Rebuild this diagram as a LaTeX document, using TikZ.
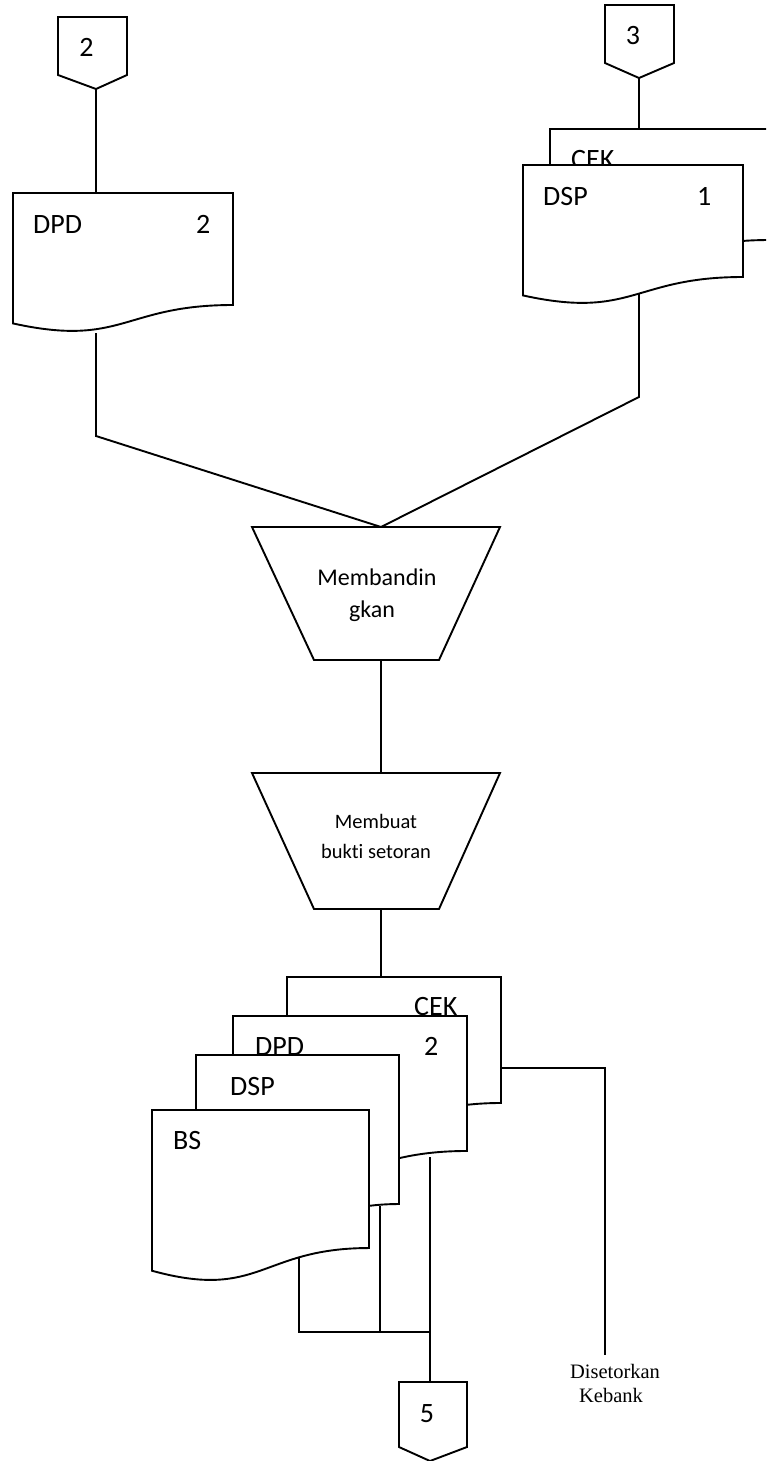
\documentclass[tikz,border=0pt]{standalone}
\usepackage{fontspec}
\setmainfont{Carlito}[Ligatures={NoCommon}]
\newfontfamily\timesf{Liberation Serif}
\tikzset{
  ln/.style={line width=1.9pt, line join=miter, line cap=butt},
  shp/.style={ln, fill=white},
  lbl/.style={inner sep=0pt, anchor=base west, font=\fontsize{28}{34}\selectfont},
  num/.style={inner sep=0pt, anchor=base, font=\fontsize{28}{34}\selectfont},
  proctxt/.style={inner sep=0pt, anchor=base, font=\fontsize{24}{30}\selectfont},
  proctxtsm/.style={inner sep=0pt, anchor=base, font=\fontsize{20.5}{26}\selectfont},
  notetxt/.style={inner sep=0pt, anchor=base, font=\timesf\fontsize{20.5}{24}\selectfont}
}
% document shape: left, top, right, full height
\newcommand\docshape[4]{%
  \draw[shp] (#1,#2) -- (#3,#2) -- (#3,{#2+0.802*#4})
    .. controls ({(#1+#3)/2},{#2+0.802*#4}) and ({(#1+#3)/2},{#2+1.1075*#4}) ..
    (#1,{#2+0.934*#4}) -- cycle;}
% off-page connector: left, right, top, side bottom, tip x, tip y
\newcommand\offpage[6]{%
  \draw[shp] (#1,#3) -- (#2,#3) -- (#2,#4) -- (#5,#6) -- (#1,#4) -- cycle;}
% manual process trapezoid: top y, bottom y
\newcommand\manproc[2]{%
  \draw[shp] (252,#1) -- (500,#1) -- (439,#2) -- (314,#2) -- cycle;}
\begin{document}
\begin{tikzpicture}[x=1pt,y=-1pt]
\useasboundingbox (0,0) rectangle (766,1461);
\clip (0,0) rectangle (766,1461);

% ---------- coordinates ----------
\coordinate (c2tip) at (96,89);
\coordinate (dpdTop) at (96,193);
\coordinate (dpdBot) at (96,333);
\coordinate (bendL) at (96,436);
\coordinate (c3tip) at (639,78);
\coordinate (cekTop) at (639,129);
\coordinate (dspBot) at (639,294);
\coordinate (bendR) at (639,397);
\coordinate (p1top) at (381,527);
\coordinate (p1bot) at (381,660);
\coordinate (p2top) at (381,773);
\coordinate (p2bot) at (381,909);
\coordinate (stackTop) at (381,977);
\coordinate (cekR) at (501,1068);
\coordinate (bankBend) at (605,1068);
\coordinate (bankEnd) at (605,1355);
\coordinate (bsBot) at (299,1258);
\coordinate (bsJoin) at (299,1332);
\coordinate (dspBBot) at (380,1206);
\coordinate (dspBJoin) at (380,1332);
\coordinate (dpdBBot) at (430,1157);
\coordinate (mainJoin) at (430,1332);
\coordinate (c5top) at (430,1382);

% ---------- connectors ----------
\draw[ln] (c2tip) -- (dpdTop);
\draw[ln] (dpdBot) -- (bendL) -- (p1top);
\draw[ln] (c3tip) -- (cekTop);
\draw[ln] (dspBot) -- (bendR) -- (p1top);
\draw[ln] (p1bot) -- (p2top);
\draw[ln] (p2bot) -- (stackTop);
\draw[ln] (cekR) -- (bankBend) -- (bankEnd);
\draw[ln] (bsBot) -- (bsJoin) -- (mainJoin);
\draw[ln] (dspBBot) -- (dspBJoin);
\draw[ln] (dpdBBot) -- (c5top);

% ---------- off-page connectors ----------
\offpage{58}{127}{17}{75}{96}{89}
\node[num] (n2) at (86.5,57) {2};
\offpage{605}{674}{5}{63}{639}{78}
\node[num] (n3) at (633,45) {3};
\offpage{399}{467}{1382}{1447}{430}{1461}
\node[num] (n5) at (427,1422) {5};

% ---------- top-left document ----------
\docshape{13}{193}{233}{139.65}
\node[lbl] (dpd1) at (33,233) {DPD};
\node[lbl] (dpd1n) at (196,233) {2};

% ---------- top-right documents ----------
\docshape{550}{129}{770}{138.4}
\node[lbl] (cek1) at (571,168) {CEK};
\docshape{523}{165}{743}{139.65}
\node[lbl] (dsp1) at (543,205) {DSP};
\node[lbl] (dsp1n) at (697,205) {1};

% ---------- processes ----------
\manproc{527}{660}
\node[proctxt] (pa1) at (377,585) {Membandin};
\node[proctxt] (pa2) at (372,617) {gkan};
\manproc{773}{909}
\node[proctxtsm] (pb1) at (376,828) {Membuat};
\node[proctxtsm] (pb2) at (376,858) {bukti setoran};

% ---------- bottom stack ----------
\docshape{287}{977}{501}{157.1}
\node[lbl] (cek2) at (414,1015) {CEK};
\docshape{233}{1016}{467}{168.3}
\node[lbl] (dpd2) at (255,1055) {DPD};
\node[lbl] (dpd2n) at (424,1055) {2};
\docshape{196}{1055}{399}{185.8}
\node[lbl] (dsp2) at (230,1095) {DSP};
\docshape{152}{1110}{369}{172.1}
\node[lbl] (bs) at (173,1149) {BS};

% ---------- note ----------
\node[notetxt] (note1) at (615,1378) {Disetorkan};
\node[notetxt] (note2) at (611,1402) {Kebank};
\end{tikzpicture}
\end{document}
